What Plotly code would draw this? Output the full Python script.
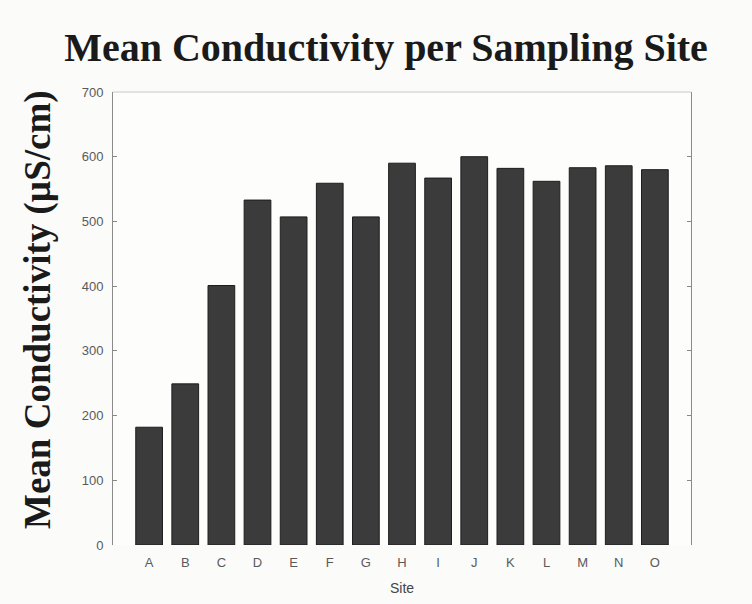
import plotly.graph_objects as go

sites = ["A", "B", "C", "D", "E", "F", "G", "H", "I", "J", "K", "L", "M", "N", "O"]
mean_conductivity = [182, 249, 401, 533, 507, 559, 507, 590, 567, 600, 582, 562, 583, 586, 580]
y_ticks = [0, 100, 200, 300, 400, 500, 600, 700]

fig = go.Figure()
fig.add_trace(go.Bar(
    x=list(range(len(sites))),
    y=mean_conductivity,
    marker=dict(color="#3b3b3b", line=dict(color="#1e1e1e", width=1)),
    width=0.74,
))

fig.update_layout(
    width=752, height=604,
    margin=dict(l=113, r=61, t=92, b=59),
    paper_bgcolor="#fbfbfa",
    plot_bgcolor="#fdfdfc",
    showlegend=False,
    title=dict(
        text="<b>Mean Conductivity per Sampling Site</b>",
        font=dict(family="Liberation Serif, Times New Roman, serif", size=40, color="#1a1a1a"),
        x=386 / 752, xanchor="center", y=1 - 47 / 604, yanchor="middle",
    ),
    xaxis=dict(
        range=[-1, 15],
        tickvals=list(range(len(sites))),
        ticktext=sites,
        ticks="", showgrid=False, zeroline=False,
        showline=False, automargin=False,
        ticklabelstandoff=8,
        tickfont=dict(family="Liberation Sans, Arial, sans-serif", size=13, color="#5a5a5a"),
        title=dict(text="Site", font=dict(family="Liberation Sans, Arial, sans-serif", size=14, color="#444"), standoff=14),
    ),
    yaxis=dict(
        range=[0, 700],
        tickvals=y_ticks,
        ticks="inside", ticklen=4, tickcolor="#888",
        showgrid=False, zeroline=False, automargin=False,
        showline=True, linecolor="#8a8a8a", linewidth=1, mirror="ticks",
        ticklabelstandoff=6,
        tickfont=dict(family="Liberation Sans, Arial, sans-serif", size=13, color="#5a5a5a"),
    ),
    annotations=[dict(
        text="<b>Mean Conductivity (µS/cm)</b>",
        textangle=-90, showarrow=False,
        xref="paper", yref="paper", xanchor="center", yanchor="middle",
        font=dict(family="Liberation Serif, Times New Roman, serif", size=37, color="#1a1a1a"),
    )],
)
# place the y-axis title by pixel position (center x=38, center y=310)
pw, ph = 752 - 113 - 61, 604 - 92 - 59
ann = fig.layout.annotations[0]
ann.x = (38 - 113) / pw
ann.y = (604 - 59 - 310) / ph

# faint top border of the axes box
fig.add_shape(type="line", xref="paper", yref="paper", x0=0, x1=1, y0=1, y1=1,
              line=dict(color="#c8c8c8", width=1))

fig.write_html("out.html")
